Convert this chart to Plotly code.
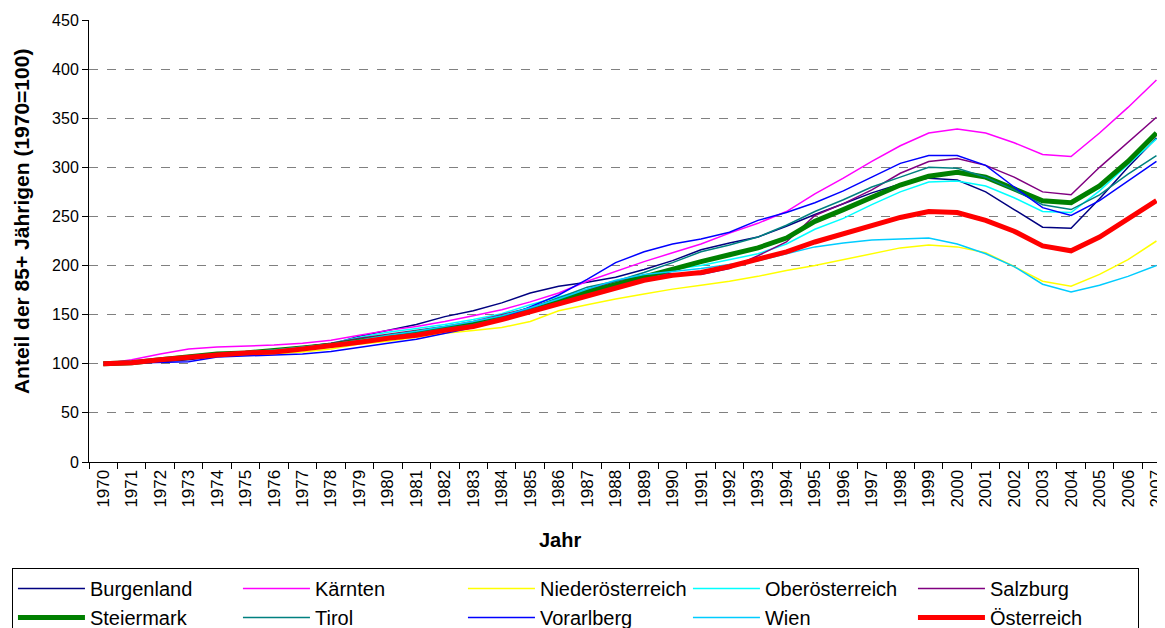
import plotly.graph_objects as go

years = [str(y) for y in range(1970, 2008)]

burgenland = [100, 101, 102, 104, 108, 111, 113, 116, 120, 128, 134, 140, 148, 154, 162, 172, 179, 183, 188,
              196, 205, 216, 223, 229, 240, 252, 263, 274, 283, 289, 287, 275, 257, 239, 238, 268, 300, 330]
kaernten = [100, 104, 110, 115, 117, 118, 119, 121, 124, 129, 134, 138, 143, 149, 155, 163, 172, 184, 194,
            204, 213, 222, 233, 243, 255, 273, 289, 306, 322, 335, 339, 335, 325, 313, 311, 335, 361, 389]
niederoesterreich = [100, 101, 103, 106, 108, 109, 110, 112, 115, 120, 123, 127, 131, 134, 137, 143, 154, 160, 166,
                     171, 176, 180, 184, 189, 195, 200, 206, 212, 218, 221, 219, 213, 199, 184, 179, 191, 206, 225]
oberoesterreich = [100, 101, 104, 107, 110, 112, 114, 117, 121, 127, 132, 136, 140, 145, 151, 160, 168, 176, 184,
                   190, 196, 200, 206, 212, 222, 237, 248, 262, 275, 285, 286, 281, 269, 255, 254, 276, 303, 329]
salzburg = [100, 101, 104, 107, 110, 112, 114, 117, 121, 126, 130, 134, 138, 143, 150, 157, 166, 175, 184,
            190, 192, 191, 197, 210, 224, 251, 263, 277, 294, 306, 309, 302, 290, 275, 272, 300, 325, 351]
steiermark = [100, 101, 104, 107, 110, 111, 113, 116, 119, 123, 127, 131, 135, 140, 147, 155, 165, 173, 180,
              189, 196, 204, 211, 218, 228, 245, 257, 269, 282, 291, 295, 290, 278, 266, 264, 281, 306, 335]
tirol = [100, 101, 104, 107, 110, 112, 113, 116, 119, 123, 127, 131, 136, 140, 147, 156, 167, 178, 184,
         193, 203, 214, 221, 229, 241, 255, 267, 280, 290, 300, 299, 290, 277, 262, 257, 272, 293, 312]
vorarlberg = [100, 100.5, 101, 102, 107, 108, 109, 110, 112.5, 117, 121, 125, 131, 137, 146, 158, 170, 186, 203,
              214, 222, 227, 234, 246, 254, 264, 276, 290, 304, 312, 312, 302, 280, 259, 251, 266, 286, 306]
wien = [100, 101, 104, 107, 110, 112, 114, 117, 120, 124, 129, 133, 138, 143, 149, 157, 166, 176, 185,
        191, 194, 197, 201, 205, 212, 219, 223, 226, 227, 228, 222, 212, 199, 181, 173, 180, 189, 200]
oesterreich = [100, 101, 104, 107, 109, 111, 112, 115, 118, 122, 126, 129, 134, 138, 145, 153, 161, 169, 178,
               185, 190, 193, 199, 206, 214, 224, 232, 240, 249, 255, 254, 246, 235, 220, 215, 229, 247, 266]

series = [
    ("Burgenland", burgenland, "#000080", 1.5),
    ("Kärnten", kaernten, "#FF00FF", 1.5),
    ("Niederösterreich", niederoesterreich, "#FFFF00", 1.5),
    ("Oberösterreich", oberoesterreich, "#00FFFF", 1.5),
    ("Salzburg", salzburg, "#800080", 1.5),
    ("Steiermark", steiermark, "#008000", 5),
    ("Tirol", tirol, "#008080", 1.5),
    ("Vorarlberg", vorarlberg, "#0000FF", 1.5),
    ("Wien", wien, "#00CCFF", 1.5),
    ("Österreich", oesterreich, "#FF0000", 5),
]

font = "Liberation Sans, Arial, sans-serif"

fig = go.Figure()

for name, values, color, width in series:
    fig.add_trace(
        go.Scatter(
            x=years,
            y=values,
            mode="lines",
            name=name,
            line=dict(color=color, width=width)
        )
    )

# page body has an 8px margin, so the figure is 8px smaller than the window
fig.update_layout(
    width=1157,
    height=620,
    margin=dict(l=81, r=0, t=12, b=166, autoexpand=False),
    plot_bgcolor="white",
    paper_bgcolor="white",
    font=dict(family=font, size=16, color="black"),
    legend=dict(
        orientation="h",
        x=-0.0716,
        xanchor="left",
        y=-0.240,
        yanchor="top",
        entrywidth=143,
        itemwidth=67,
        bordercolor="black",
        borderwidth=1,
        font=dict(size=20),
        traceorder="normal"
    ),
    annotations=[
        dict(
            text="<b>Anteil der 85+ Jährigen (1970=100)</b>",
            xref="paper", yref="paper",
            x=-0.0632, y=0.545,
            xanchor="center", yanchor="middle",
            textangle=-90,
            showarrow=False,
            font=dict(size=21)
        ),
        dict(
            text="<b>Jahr</b>",
            xref="paper", yref="paper",
            x=0.4377, y=-0.1765,
            xanchor="center", yanchor="middle",
            showarrow=False,
            font=dict(size=20)
        )
    ]
)

fig.update_xaxes(
    type="category",
    range=[-0.5, 37.3],
    tickangle=-90,
    tickfont=dict(size=17),
    ticks="outside",
    tickson="boundaries",
    ticklen=6,
    tickcolor="black",
    showline=True,
    linecolor="black",
    showgrid=False
)

fig.update_yaxes(
    range=[0, 450],
    dtick=50,
    ticks="outside",
    ticklen=6,
    tickcolor="black",
    showline=True,
    linecolor="black",
    gridcolor="#808080",
    griddash="dash",
    zeroline=False
)

fig.write_html("out.html")
